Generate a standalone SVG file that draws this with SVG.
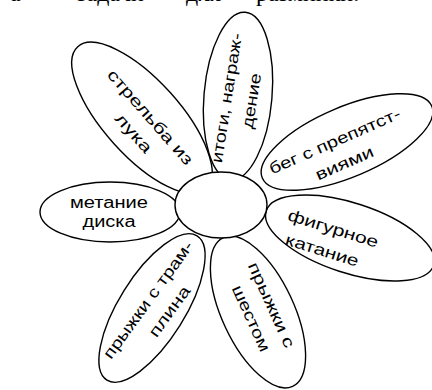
<svg xmlns="http://www.w3.org/2000/svg" width="432" height="390" viewBox="0 0 432 390">
<style>
.p{fill:#fff;stroke:#000;stroke-width:1.4}
.t{font-family:"Liberation Sans",Arial,sans-serif;font-size:16px;fill:#000;text-anchor:middle}
.h{font-family:"Liberation Serif","Times New Roman",serif;font-size:24px;fill:#000}
</style>
<rect width="432" height="390" fill="#fff"/>
<g id="heading">
<text class="h" x="10" y="1">а</text>
<text class="h" x="77" y="1">задачи</text>
<text class="h" x="186" y="1">для</text>
<text class="h" x="256" y="1">разминки.</text>
</g>
<g id="petals">
<g id="petal-strelba">
<ellipse class="p" cx="0" cy="0" rx="96" ry="38" transform="translate(142,118) rotate(48)"/>
<g transform="translate(150,117.5) rotate(48.7)">
<text class="t" x="0" y="5" textLength="121" lengthAdjust="spacingAndGlyphs">стрельба из</text>
<text class="t" x="1" y="28" textLength="47" lengthAdjust="spacingAndGlyphs">лука</text>
</g>
</g>
<g id="petal-itogi">
<ellipse class="p" cx="0" cy="0" rx="34" ry="84" transform="translate(238,96) rotate(5)"/>
<g transform="translate(227,98) rotate(-81)">
<text class="t" x="0" y="5" textLength="131" lengthAdjust="spacingAndGlyphs">итоги, награж-</text>
<text class="t" x="1" y="30" textLength="56" lengthAdjust="spacingAndGlyphs">дение</text>
</g>
</g>
<g id="petal-beg">
<ellipse class="p" cx="0" cy="0" rx="92" ry="35" transform="translate(347,142) rotate(-23)"/>
<g transform="translate(335,141.5) rotate(-23.7)">
<text class="t" x="0" y="5" textLength="142" lengthAdjust="spacingAndGlyphs">бег с препятст-</text>
<text class="t" x="0" y="29" textLength="62" lengthAdjust="spacingAndGlyphs">виями</text>
</g>
</g>
<g id="petal-metanie">
<ellipse class="p" cx="110" cy="212" rx="70" ry="30"/>
<text class="t" x="109" y="208" textLength="78" lengthAdjust="spacingAndGlyphs">метание</text>
<text class="t" x="109" y="227" textLength="53" lengthAdjust="spacingAndGlyphs">диска</text>
</g>
<g id="petal-figurnoe">
<ellipse class="p" cx="0" cy="0" rx="88" ry="35" transform="translate(350,238) rotate(18)"/>
<g transform="translate(333,229) rotate(17.3)">
<text class="t" x="0" y="5" textLength="94" lengthAdjust="spacingAndGlyphs">фигурное</text>
<text class="t" x="-4" y="29" textLength="76" lengthAdjust="spacingAndGlyphs">катание</text>
</g>
</g>
<g id="petal-tramplin">
<ellipse class="p" cx="0" cy="0" rx="85" ry="33" transform="translate(152,308) rotate(-58)"/>
<g transform="translate(148.5,300) rotate(-54)">
<text class="t" x="0" y="5" textLength="141" lengthAdjust="spacingAndGlyphs">прыжки с трам-</text>
<text class="t" x="3" y="29" textLength="59" lengthAdjust="spacingAndGlyphs">плина</text>
</g>
</g>
<g id="petal-shest">
<ellipse class="p" cx="0" cy="0" rx="82" ry="36" transform="translate(258,312) rotate(65)"/>
<g transform="translate(271,305) rotate(65.7)">
<text class="t" x="0" y="5" textLength="92" lengthAdjust="spacingAndGlyphs">прыжки с</text>
<text class="t" x="4" y="29" textLength="71" lengthAdjust="spacingAndGlyphs">шестом</text>
</g>
</g>
</g>
<g id="center">
<ellipse class="p" cx="221" cy="205" rx="46" ry="33"/>
</g>
</svg>
